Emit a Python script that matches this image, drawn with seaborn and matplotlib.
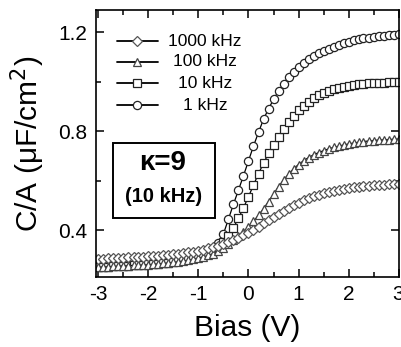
import numpy as np
import pandas as pd
import seaborn as sns
import matplotlib.pyplot as plt
from matplotlib.ticker import MultipleLocator
from matplotlib.patches import Rectangle

bias = [-3.0, -2.9, -2.8, -2.7, -2.6, -2.5, -2.4, -2.3, -2.2, -2.1,
        -2.0, -1.9, -1.8, -1.7, -1.6, -1.5, -1.4, -1.3, -1.2, -1.1,
        -1.0, -0.9, -0.8, -0.7, -0.6, -0.5, -0.4, -0.3, -0.2, -0.1,
        0.0, 0.1, 0.2, 0.3, 0.4, 0.5, 0.6, 0.7, 0.8, 0.9,
        1.0, 1.1, 1.2, 1.3, 1.4, 1.5, 1.6, 1.7, 1.8, 1.9,
        2.0, 2.1, 2.2, 2.3, 2.4, 2.5, 2.6, 2.7, 2.8, 2.9, 3.0]

c_1khz = [0.255, 0.256, 0.257, 0.258, 0.259, 0.260, 0.261, 0.262, 0.263, 0.264,
          0.266, 0.267, 0.269, 0.271, 0.273, 0.276, 0.279, 0.283, 0.287, 0.292,
          0.298, 0.305, 0.314, 0.327, 0.348, 0.385, 0.445, 0.505, 0.562, 0.620,
          0.680, 0.740, 0.795, 0.848, 0.890, 0.928, 0.962, 0.992, 1.018, 1.040,
          1.058, 1.075, 1.090, 1.103, 1.115, 1.125, 1.134, 1.142, 1.149, 1.156,
          1.162, 1.167, 1.171, 1.175, 1.178, 1.181, 1.184, 1.186, 1.188, 1.190, 1.191]

c_10khz = [0.250, 0.251, 0.252, 0.253, 0.254, 0.255, 0.256, 0.257, 0.258, 0.259,
           0.261, 0.262, 0.264, 0.266, 0.268, 0.271, 0.274, 0.277, 0.281, 0.286,
           0.291, 0.297, 0.305, 0.315, 0.330, 0.350, 0.377, 0.410, 0.448, 0.490,
           0.535, 0.582, 0.628, 0.670, 0.710, 0.745, 0.778, 0.808, 0.836, 0.862,
           0.885, 0.903, 0.919, 0.933, 0.945, 0.955, 0.963, 0.970, 0.976, 0.980,
           0.984, 0.987, 0.989, 0.991, 0.993, 0.994, 0.995, 0.996, 0.997, 0.998, 0.999]

c_100khz = [0.250, 0.251, 0.252, 0.253, 0.254, 0.255, 0.256, 0.257, 0.258, 0.259,
            0.260, 0.262, 0.263, 0.265, 0.267, 0.269, 0.272, 0.275, 0.278, 0.282,
            0.286, 0.291, 0.297, 0.305, 0.315, 0.327, 0.342, 0.358, 0.375, 0.393,
            0.412, 0.435, 0.460, 0.486, 0.515, 0.545, 0.575, 0.602, 0.626, 0.647,
            0.665, 0.680, 0.693, 0.704, 0.713, 0.721, 0.728, 0.734, 0.739, 0.744,
            0.748, 0.752, 0.755, 0.758, 0.760, 0.762, 0.764, 0.765, 0.766, 0.767, 0.768]

c_1000khz = [0.283, 0.284, 0.285, 0.286, 0.287, 0.288, 0.289, 0.290, 0.291, 0.292,
             0.293, 0.295, 0.296, 0.298, 0.300, 0.302, 0.304, 0.307, 0.310, 0.313,
             0.317, 0.321, 0.326, 0.331, 0.337, 0.344, 0.351, 0.359, 0.368, 0.378,
             0.389, 0.401, 0.414, 0.427, 0.440, 0.453, 0.466, 0.478, 0.490, 0.501,
             0.511, 0.520, 0.528, 0.536, 0.543, 0.549, 0.554, 0.559, 0.563, 0.567,
             0.570, 0.573, 0.576, 0.578, 0.580, 0.582, 0.583, 0.584, 0.585, 0.586, 0.587]

freq_labels = ["1000 kHz", "100 kHz", "10 kHz", "1 kHz"]
series = [c_1000khz, c_100khz, c_10khz, c_1khz]

sns.set_theme(style="ticks")
plt.rcParams['font.family'] = ['Liberation Sans', 'DejaVu Sans']
plt.rcParams['text.color'] = 'black'
plt.rcParams['axes.labelcolor'] = 'black'
plt.rcParams['xtick.color'] = 'black'
plt.rcParams['ytick.color'] = 'black'

df = pd.concat([pd.DataFrame({"bias": bias, "C": vals, "freq": lab})
                for lab, vals in zip(freq_labels, series)], ignore_index=True)

styles = {
    "1000 kHz": dict(marker="D", markersize=4.9, markeredgecolor="#555555"),
    "100 kHz": dict(marker="^", markersize=6.0, markeredgecolor="#444444"),
    "10 kHz": dict(marker="s", markersize=5.2, markeredgecolor="#222222"),
    "1 kHz": dict(marker="o", markersize=5.9, markeredgecolor="#222222"),
}

W, H = 401, 347
fig = plt.figure(figsize=(W / 100, H / 100), dpi=100)
L, R, T, B = 96, 399, 10, 277
ax = fig.add_axes([L / W, 1 - B / H, (R - L) / W, (B - T) / H])

for lab in ["1 kHz", "10 kHz", "100 kHz", "1000 kHz"]:
    sub = df[df["freq"] == lab]
    sns.lineplot(data=sub, x="bias", y="C", ax=ax, color="black", lw=0.9,
                 markerfacecolor="white", markeredgewidth=0.9, legend=False,
                 **styles[lab])

ax.set_xlim(-3.05, 3.01)
ax.set_ylim(0.21, 1.29)
ax.xaxis.set_major_locator(MultipleLocator(1))
ax.xaxis.set_minor_locator(MultipleLocator(0.5))
ax.yaxis.set_major_locator(MultipleLocator(0.4))
ax.yaxis.set_minor_locator(MultipleLocator(0.2))
ax.set_xticks([-3, -2, -1, 0, 1, 2, 3])
ax.set_xticklabels(["-3", "-2", "-1", "0", "1", "2", "3"])
ax.set_yticks([0.4, 0.8, 1.2])
ax.set_yticklabels(["0.4", "0.8", "1.2"])
ax.tick_params(which="both", direction="in", top=True, right=True, width=1.1,
               color="black", labelcolor="black", labelsize=15, pad=6)
ax.tick_params(which="major", length=6)
ax.tick_params(which="minor", length=3.5)
for s in ax.spines.values():
    s.set_linewidth(1.2)
    s.set_color("black")

ax.set_xlabel("Bias (V)", fontsize=21.5, labelpad=7, color="black")
ax.set_ylabel("C/A (\u03bcF/cm$^2$)", fontsize=21.5, labelpad=8, color="black")


def axc(px, py):
    return (px - L) / (R - L), (B - py) / (B - T)


# legend (manual, centered labels)
leg_y = [41, 62, 83, 105]
for lab, py in zip(freq_labels, leg_y):
    x0, y0 = axc(117, py)
    xm, _ = axc(137, py)
    x1, _ = axc(158, py)
    st = styles[lab]
    ax.plot([x0, xm, x1], [y0, y0, y0], transform=ax.transAxes, color="black",
            lw=1.3, marker=st["marker"], markersize=st["markersize"],
            markerfacecolor="white", markeredgecolor=st["markeredgecolor"],
            markeredgewidth=0.9, markevery=[1], clip_on=False)
    tx, ty = axc(205, py)
    ax.text(tx, ty, lab, transform=ax.transAxes, ha="center", va="center",
            fontsize=12.5, color="black")

# kappa box
bx0, by0 = axc(113, 218)
bx1, by1 = axc(215, 143)
ax.add_patch(Rectangle((bx0, by0), bx1 - bx0, by1 - by0, transform=ax.transAxes,
                       fill=False, edgecolor="black", lw=1.4))
kx, ky = axc(163, 163)
ax.text(kx, ky, "\u03ba=9", transform=ax.transAxes, ha="center", va="center",
        fontsize=20, fontweight="bold", color="black")
kx2, ky2 = axc(164, 196)
ax.text(kx2, ky2, "(10 kHz)", transform=ax.transAxes, ha="center", va="center",
        fontsize=14.5, fontweight="bold", color="black")

fig.savefig("out.png", dpi=100)
